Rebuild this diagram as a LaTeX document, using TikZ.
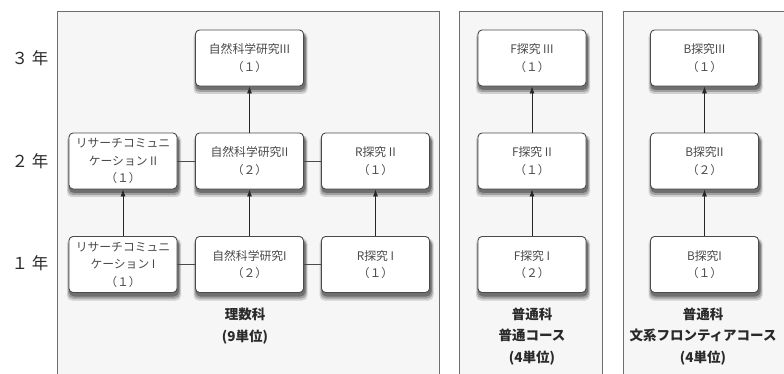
\documentclass[tikz,border=0pt]{standalone}
\usepackage{fontspec}
\setmainfont{Noto Sans CJK JP}
\usetikzlibrary{arrows.meta}
\definecolor{panelline}{HTML}{6E6E6E}
\definecolor{panelfill}{HTML}{F6F6F6}
\definecolor{boxline}{HTML}{4A4A4A}
\definecolor{boxtext}{HTML}{4A4A4A}
\definecolor{labeltext}{HTML}{2A2A2A}
\definecolor{shadeA}{HTML}{D0D0D0}
\definecolor{shadeB}{HTML}{A0A0A0}
\definecolor{shadeC}{HTML}{707070}
\tikzset{
  panel/.style={draw=panelline, line width=0.9pt, fill=panelfill},
  course/.style={draw=boxline, line width=0.9pt, fill=white, rounded corners=4pt,
    minimum width=108pt, minimum height=56pt, inner sep=0pt,
    align=center, text=boxtext, font=\fontsize{11.8}{17.5}\selectfont},
  shadowpart/.style={rounded corners=5pt},
  year/.style={text=labeltext, font=\fontsize{16.5}{18}\selectfont},
  coursename/.style={text=labeltext, align=center, font=\bfseries\fontsize{13.5}{21.5}\selectfont},
  up/.style={draw=black!85, line width=0.8pt, -{Latex[length=7pt,width=5pt]}},
  link/.style={draw=boxline, line width=0.8pt}
}
% \course{name}{x}{y}{text}
\newcommand{\course}[4]{%
  \path[shadowpart, fill=shadeA] ({#2-54-2},{#3-28+2}) rectangle ({#2+54+4},{#3+28+8});
  \path[shadowpart, fill=shadeB] ({#2-54-1},{#3-28+3}) rectangle ({#2+54+3},{#3+28+6});
  \path[shadowpart, fill=shadeC] ({#2-54},{#3-28+3}) rectangle ({#2+54+2},{#3+28+4});
  \node[course] (#1) at (#2,#3) {#4};%
}
\begin{document}
\begin{tikzpicture}[x=1pt,y=-1pt]
\useasboundingbox (0,0) rectangle (784,374);
\clip (0,0) rectangle (784,374);
\fill[white] (0,0) rectangle (784,374);
\draw[panel] (57,11) rectangle (439,390);
\draw[panel] (459,11) rectangle (602,390);
\draw[panel] (623,11) rectangle (800,390);
% year labels
\node[year] (y3) at (30,58) {３ 年};
\node[year] (y2) at (30,161) {２ 年};
\node[year] (y1) at (30,263) {１ 年};
% panel 1
\course{n3}{249.5}{58}{自然科学研究III\\（１）}
\course{c2}{123}{161}{リサーチコミュニ\\ケーション II\\（１）}
\course{n2}{249.5}{161}{自然科学研究II\\（２）}
\course{r2}{375.5}{161}{R探究 II\\（１）}
\course{c1}{123}{264.5}{リサーチコミュニ\\ケーション I\\（１）}
\course{n1}{249.5}{264.5}{自然科学研究I\\（２）}
\course{r1}{375.5}{264.5}{R探究 I\\（１）}
\draw[link] (c2) -- (n2);
\draw[link] (n2) -- (r2);
\draw[link] (c1) -- (n1);
\draw[link] (n1) -- (r1);
\draw[up] (n2) -- (n3);
\draw[up] (c1) -- (c2);
\draw[up] (n1) -- (n2);
\draw[up] (r1) -- (r2);
\node[coursename] (l1) at (245,326) {理数科\\(9単位)};
% panel 2
\course{f3}{532}{58}{F探究 III\\（１）}
\course{f2}{532}{161}{F探究 II\\（１）}
\course{f1}{532}{264.5}{F探究 I\\（２）}
\draw[up] (f2) -- (f3);
\draw[up] (f1) -- (f2);
\node[coursename] (l2) at (532,336.5) {普通科\\普通コース\\(4単位)};
% panel 3
\course{b3}{704.5}{58}{B探究III\\（１）}
\course{b2}{704.5}{161}{B探究II\\（２）}
\course{b1}{704.5}{264.5}{B探究I\\（１）}
\draw[up] (b2) -- (b3);
\draw[up] (b1) -- (b2);
\node[coursename] (l3) at (703,336.5) {普通科\\文系フロンティアコース\\(4単位)};
\end{tikzpicture}
\end{document}
